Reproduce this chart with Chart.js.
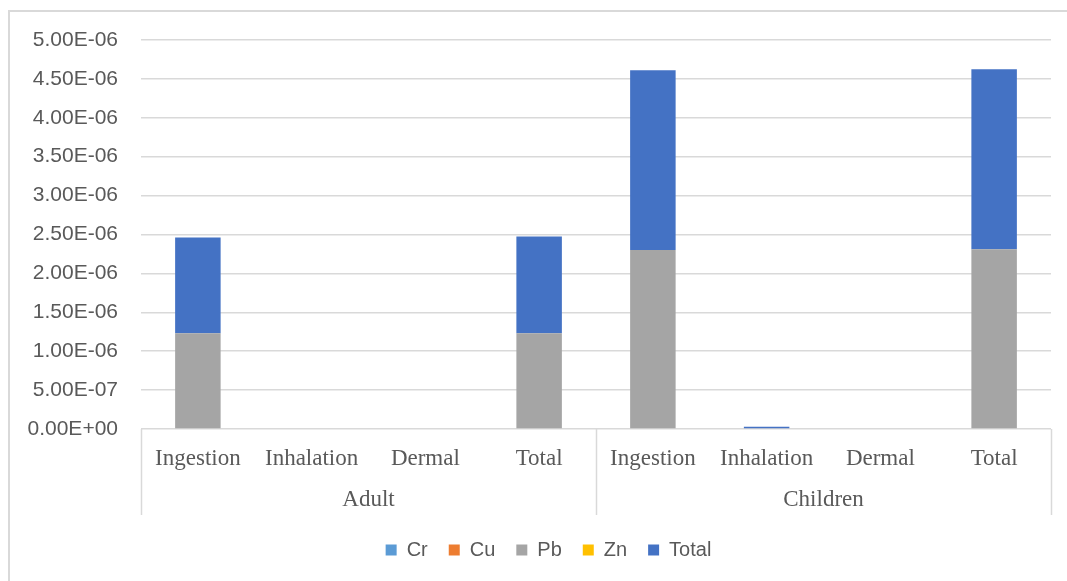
<!DOCTYPE html>
<html>
<head>
<meta charset="utf-8">
<script src="https://cdn.jsdelivr.net/npm/chart.js@4.4.1/dist/chart.umd.min.js"></script>
<style>
  html, body { margin: 0; padding: 0; background: #ffffff; }
  #wrap { position: relative; width: 1067px; height: 581px; }
  canvas { display: block; }
</style>
</head>
<body>
<div id="wrap"><canvas id="c" width="1067" height="581"></canvas></div>
<script>
// Exposure pathways, grouped by receptor
const categories = ['Ingestion', 'Inhalation', 'Dermal', 'Total', 'Ingestion', 'Inhalation', 'Dermal', 'Total'];
const groups = ['Adult', 'Children'];
const groupSize = 4;

// Risk values per metal (stacked)
const crValues = [0, 0, 0, 0, 0, 0, 0, 0];
const cuValues = [0, 0, 0, 0, 0, 0, 0, 0];
const pbValues = [1.23e-6, 0, 0, 1.23e-6, 2.30e-6, 0, 0, 2.31e-6];
const znValues = [0, 0, 0, 0, 0, 0, 0, 0];
const totalValues = [1.23e-6, 0, 0, 1.245e-6, 2.31e-6, 3.0e-8, 0, 2.315e-6];

const yTicks = [0, 5e-7, 1e-6, 1.5e-6, 2e-6, 2.5e-6, 3e-6, 3.5e-6, 4e-6, 4.5e-6, 5e-6];

const textColor = '#595959';
const gridColor = '#d9d9d9';
const xAxisHeight = 90;
const separatorLength = 86;

// Two-level category axis: separators and group names under the pathway labels
const groupAxisPlugin = {
  id: 'groupAxis',
  afterLayout(chart) {
    // legend centred under the plot area rather than the whole canvas
    if (chart.legend) chart.legend.left += 46;
  },
  afterDraw(chart) {
    const { ctx, chartArea, scales } = chart;
    const x = scales.x;
    const top = chartArea.bottom;
    const bottom = top + separatorLength;
    const step = x.getPixelForValue(1) - x.getPixelForValue(0);
    ctx.save();
    ctx.strokeStyle = gridColor;
    ctx.lineWidth = 1.5;
    const edges = [];
    for (let g = 0; g <= groups.length; g++) {
      edges.push(x.getPixelForValue(0) - step / 2 + g * groupSize * step);
    }
    edges.forEach(px => {
      ctx.beginPath();
      ctx.moveTo(Math.round(px) + 0.5, top);
      ctx.lineTo(Math.round(px) + 0.5, bottom);
      ctx.stroke();
    });
    ctx.fillStyle = textColor;
    ctx.font = '23px "Liberation Serif", "Times New Roman", serif';
    ctx.textAlign = 'center';
    ctx.textBaseline = 'middle';
    groups.forEach((name, g) => {
      ctx.fillText(name, (edges[g] + edges[g + 1]) / 2, top + 71);
    });
    ctx.restore();
  }
};

// Outer chart frame (top and left edges)
const framePlugin = {
  id: 'frame',
  beforeDraw(chart) {
    const { ctx } = chart;
    ctx.save();
    ctx.fillStyle = '#ffffff';
    ctx.fillRect(0, 0, chart.width, chart.height);
    ctx.strokeStyle = '#d9d9d9';
    ctx.lineWidth = 2;
    ctx.beginPath();
    ctx.moveTo(9, chart.height);
    ctx.lineTo(9, 11);
    ctx.lineTo(chart.width, 11);
    ctx.stroke();
    ctx.restore();
  }
};

const mk = (label, data, color) => ({
  label, data, backgroundColor: color, borderWidth: 0,
  barPercentage: 0.4, categoryPercentage: 1.0
});

new Chart(document.getElementById('c'), {
  type: 'bar',
  data: {
    labels: categories,
    datasets: [
      mk('Cr', crValues, '#5B9BD5'),
      mk('Cu', cuValues, '#ED7D31'),
      mk('Pb', pbValues, '#A5A5A5'),
      mk('Zn', znValues, '#FFC000'),
      mk('Total', totalValues, '#4472C4')
    ]
  },
  options: {
    responsive: false,
    animation: false,
    layout: { padding: { top: 40, right: 16, bottom: 11, left: 0 } },
    plugins: {
      tooltip: { enabled: false },
      legend: {
        position: 'bottom',
        labels: {
          boxWidth: 11, boxHeight: 11, padding: 21,
          color: textColor,
          font: { family: '"Liberation Sans", Arial, sans-serif', size: 20 }
        }
      }
    },
    scales: {
      x: {
        stacked: true,
        grid: { display: false },
        border: { display: false },
        ticks: {
          color: textColor, padding: 8, maxRotation: 0, autoSkip: false,
          font: { family: '"Liberation Serif", "Times New Roman", serif', size: 23 }
        },
        afterFit: s => { s.height = xAxisHeight; }
      },
      y: {
        stacked: true,
        min: 0, max: 5e-6,
        afterFit: s => { s.width = 141; },
        afterBuildTicks: s => { s.ticks = yTicks.map(v => ({ value: v })); },
        grid: { color: gridColor, lineWidth: 1.5, drawTicks: false },
        border: { display: false },
        ticks: {
          color: textColor, padding: 23,
          font: { family: '"Liberation Sans", Arial, sans-serif', size: 21 },
          callback: v => {
            const s = Number(v).toExponential(2).toUpperCase();
            return s.replace(/E([+-])(\d)$/, 'E$10$2');
          }
        }
      }
    }
  },
  plugins: [framePlugin, groupAxisPlugin]
});
</script>
</body>
</html>
